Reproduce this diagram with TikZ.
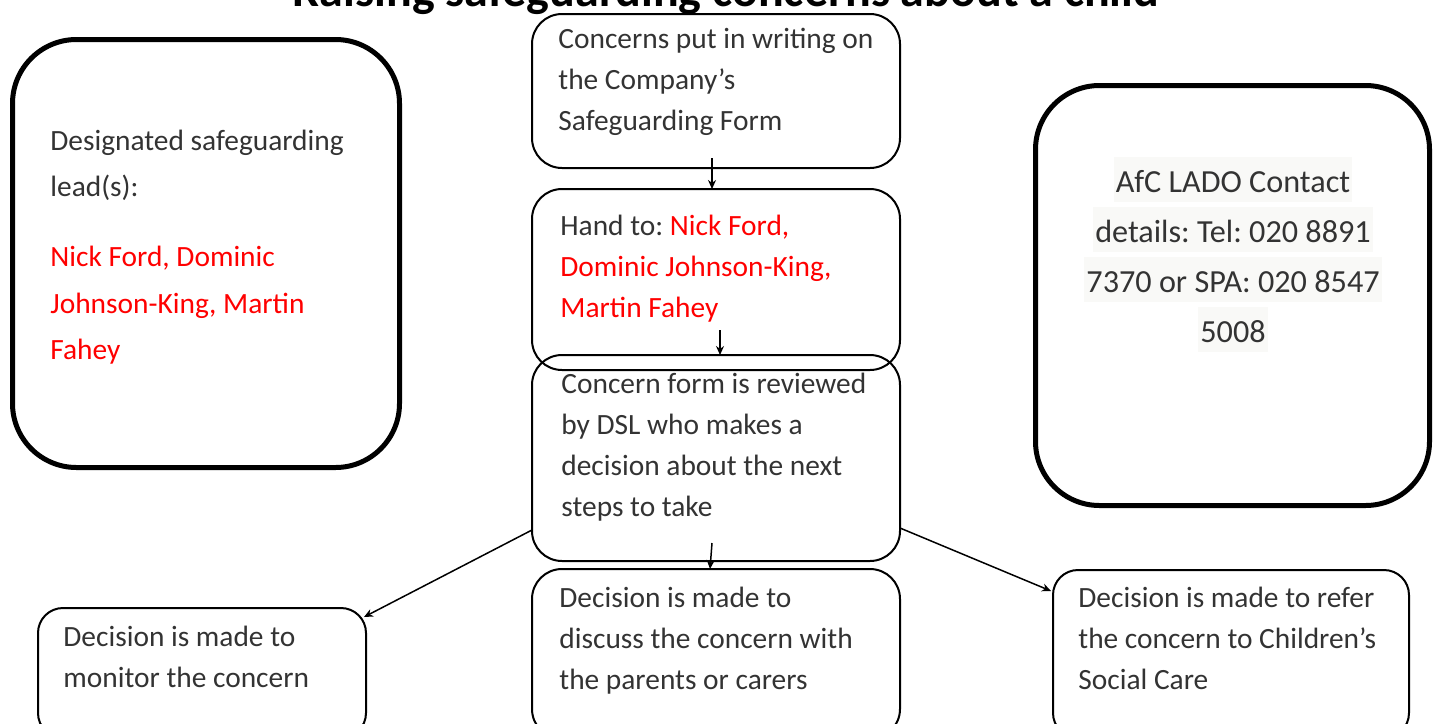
\documentclass[tikz,border=0pt]{standalone}
\usepackage{fontspec}
\setmainfont{Carlito}
\usetikzlibrary{arrows.meta}
\definecolor{txt}{HTML}{333333}
\definecolor{nm}{HTML}{FF0000}
\definecolor{hl}{HTML}{F9F9F7}
\frenchspacing
\newcommand{\fl}{\rule{0pt}{1em}}
\newcommand{\hlline}[1]{{\setlength{\fboxsep}{0pt}\colorbox{hl}{\rule[-5pt]{0pt}{22.5pt}\kern1pt#1\kern1pt}}}
\begin{document}
\frenchspacing
\begin{tikzpicture}[x=0.5pt,y=-0.5pt,
  cbox/.style={draw=black, line width=1pt, rounded corners=15pt, inner sep=0pt, outer sep=0pt, anchor=north west},
  bigbox/.style={draw=black, line width=2.5pt, rounded corners=32pt, inner sep=0pt, outer sep=0pt, anchor=north west},
  body/.style={font=\fontsize{14.7}{20.5}\selectfont, text=txt, align=left, inner sep=0pt, anchor=north west},
  arr/.style={line width=0.75pt, -{Stealth[length=4.5pt,width=4pt]}}]
\useasboundingbox (0,0) rectangle (1440,723);
% boxes
\node[bigbox, minimum width=193.5pt, minimum height=214pt] (lead) at (12.5,39.5) {};
\node[bigbox, minimum width=197pt, minimum height=210pt] (lado) at (1035.5,85.5) {};
\node[cbox, minimum width=184pt, minimum height=77pt] (b1) at (532,14) {};
\node[cbox, minimum width=184pt, minimum height=90.5pt] (b2) at (532,189) {};
\node[cbox, minimum width=184pt, minimum height=103pt] (b3) at (532,355) {};
\node[cbox, minimum width=184pt, minimum height=85pt] (b4) at (532,569) {};
\node[cbox, minimum width=164pt, minimum height=65pt, rounded corners=12.5pt] (b5) at (38,608) {};
\node[cbox, minimum width=178pt, minimum height=84pt, rounded corners=12.5pt] (b6) at (1053,570) {};
% title
\node[font=\bfseries\fontsize{24}{28}\selectfont, anchor=base, inner sep=0pt] (title) at (726,6) {Raising safeguarding concerns about a child};
% texts
\node[body, font=\fontsize{14.7}{23.25}\selectfont] (tlead) at (50,120.6) {\fl Designated safeguarding\\lead(s):\\[11.75pt]\textcolor{nm}{Nick Ford, Dominic}\\\textcolor{nm}{Johnson-King, Martin}\\\textcolor{nm}{Fahey}};
\node[font=\fontsize{16.1}{25}\selectfont, text=txt, align=center, inner sep=0pt, anchor=north] (tlado) at (1233,157) {\hlline{AfC LADO Contact}\\\hlline{details: Tel: 020 8891}\\\hlline{7370 or SPA: 020 8547}\\\hlline{5008}};
\node[body] (t1) at (558,18.6) {\fl Concerns put in writing on\\the Company’s\\Safeguarding Form};
\node[body] (t2) at (560,205.6) {\fl Hand to: \textcolor{nm}{Nick Ford,}\\\textcolor{nm}{Dominic Johnson-King,}\\\textcolor{nm}{Martin Fahey}};
\node[body] (t3) at (561,363.6) {\fl Concern form is reviewed\\by DSL who makes a\\decision about the next\\steps to take};
\node[body] (t4) at (559,577.6) {\fl Decision is made to\\discuss the concern with\\the parents or carers};
\node[body] (t5) at (63,616.6) {\fl Decision is made to\\monitor the concern};
\node[body] (t6) at (1078,577.6) {\fl Decision is made to refer\\the concern to Children’s\\Social Care};
% arrows
\draw[arr] ([xshift=-2pt,yshift=5pt]b1.south) -- ([xshift=-2pt]b2.north);
\draw[arr] ([xshift=2pt,yshift=20pt]b2.south) -- ([xshift=2pt]b3.north);
\draw[arr] ([xshift=-2pt,yshift=9pt]b3.south) -- ([xshift=-3pt]b4.north);
\draw[arr] ([yshift=-36pt]b3.west) -- ([xshift=-1pt,yshift=-4.5pt]b5.north east);
\draw[arr] ([yshift=-35pt]b3.east) -- ([xshift=-1pt,yshift=-10.5pt]b6.north west);
\end{tikzpicture}
\end{document}
